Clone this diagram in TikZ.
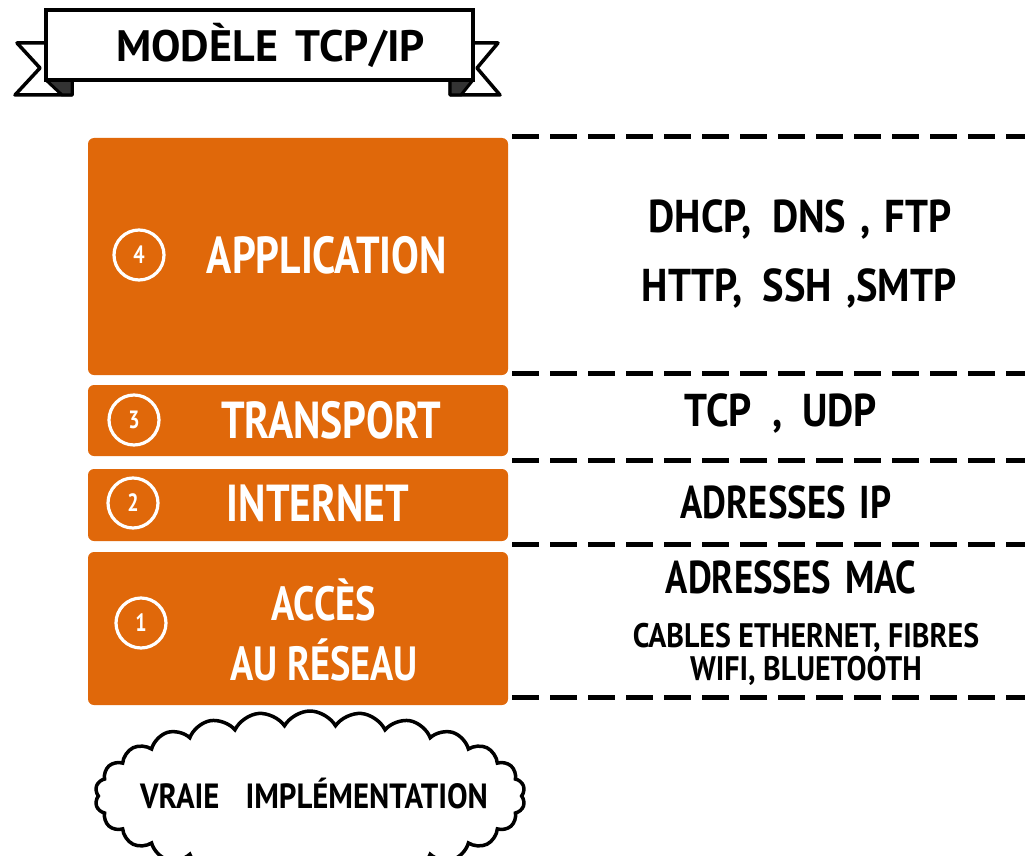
\documentclass[tikz,border=0pt]{standalone}
\usepackage{fontspec}
\newfontfamily\hand[FakeStretch=0.8]{PT Sans}
\newfontfamily\handw[FakeStretch=0.88]{PT Sans}
\newfontfamily\handt[FakeStretch=1.0]{PT Sans}
\usetikzlibrary{shapes.symbols}
\definecolor{layerorange}{RGB}{224,104,10}
\newcommand\gap[1]{\hspace{#1pt}}
\tikzset{
  layer/.style={fill=layerorange, rounded corners=6pt, inner sep=0pt},
  num/.style={circle, draw=white, line width=3.2pt, minimum size=50pt, inner sep=0pt, text=white,
    font=\hand\bfseries\fontsize{25}{25}\selectfont},
  ltext/.style={text=white, inner sep=0pt, align=center, font=\hand\bfseries\fontsize{52}{60}\selectfont},
  rtext/.style={text=black, inner sep=0pt, align=center, font=\handw\bfseries\fontsize{46}{50}\selectfont},
  stext/.style={text=black, inner sep=0pt, align=center, font=\handw\bfseries\fontsize{34}{33}\selectfont},
  sepline/.style={line width=5pt, dash pattern=on 27pt off 11pt},
  ribbon/.style={draw=black, fill=white, line width=3.5pt, line join=round},
  fold/.style={draw=black, fill=black!80, line width=3pt, line join=round},
}
\begin{document}
\begin{tikzpicture}[x=1pt,y=-1pt]
\useasboundingbox (0,0) rectangle (1025,856);
% ribbon tails
\draw[ribbon] (47,43) -- (17,43) -- (40,68) -- (15,95) -- (72,95) -- (72,80);
\draw[fold] (46,80) -- (72,80) -- (72,95) -- (62,95) -- cycle;
\draw[ribbon] (473,43) -- (498,43) -- (477,68) -- (500,95) -- (450,95) -- (450,80);
\draw[fold] (473,80) -- (450,80) -- (450,95) -- (461,95) -- cycle;
% banner
\node[draw=black, fill=white, line width=4pt, minimum width=427pt, minimum height=70pt, inner sep=0pt,
  font=\handt\bfseries\fontsize{44}{44}\selectfont] (banner) at (259.5,45) {\gap{22}MODÈLE\gap{18}TCP/IP};
% layers
\node[layer, minimum width=420pt, minimum height=237pt] (l4) at (298,256.5) {};
\node[layer, minimum width=420pt, minimum height=71pt] (l3) at (298,420.5) {};
\node[layer, minimum width=420pt, minimum height=72pt] (l2) at (298,505) {};
\node[layer, minimum width=420pt, minimum height=153pt] (l1) at (298,628.5) {};
% numbers
\node[num] (n4) at (139,255) {4};
\node[num] (n3) at (134,420) {3};
\node[num] (n2) at (133,503) {2};
\node[num] (n1) at (141,623) {1};
% layer names
\node[ltext] (t4) at (327,255) {APPLICATION};
\node[ltext] (t3) at (331,420) {TRANSPORT};
\node[ltext] (t2) at (318,503) {INTERNET};
\node[ltext, font=\hand\bfseries\fontsize{48}{60}\selectfont] (t1) at (324,630) {ACCÈS\\AU RÉSEAU};
% separators
\draw[sepline] (512,137) -- (1025,137);
\draw[sepline] (512,373) -- (1025,373);
\draw[sepline] (512,460) -- (1025,460);
\draw[sepline] (512,544) -- (1025,544);
\draw[sepline] (512,697) -- (1025,697);
% protocols
\node[rtext] (p4a) at (800,219) {DHCP,\gap{20}DNS\gap{14},\gap{14}FTP};
\node[rtext] (p4b) at (799,288) {HTTP,\gap{20}SSH\gap{14},SMTP};
\node[rtext] (p3) at (781,413) {TCP\gap{20},\gap{20}UDP};
\node[rtext, font=\hand\bfseries\fontsize{46}{50}\selectfont] (p2) at (786,502) {ADRESSES\gap{14}IP};
\node[rtext, font=\hand\bfseries\fontsize{46}{50}\selectfont] (p1a) at (791,577) {ADRESSES\gap{14}MAC};
\node[stext] (p1b) at (806,654) {CABLES ETHERNET, FIBRES\\WIFI, BLUETOOTH};
% cloud
\node[cloud, cloud ignores aspect, draw=black, fill=white, line width=3.5pt, cloud puffs=26, cloud puff arc=120,
  minimum width=430pt, minimum height=170pt, inner sep=0pt] (cloudshape) at (310,796) {};
\node[inner sep=0pt, font=\handw\bfseries\fontsize{35}{35}\selectfont] (impl) at (314,794) {VRAIE\gap{26}IMPLÉMENTATION};
\end{tikzpicture}
\end{document}
